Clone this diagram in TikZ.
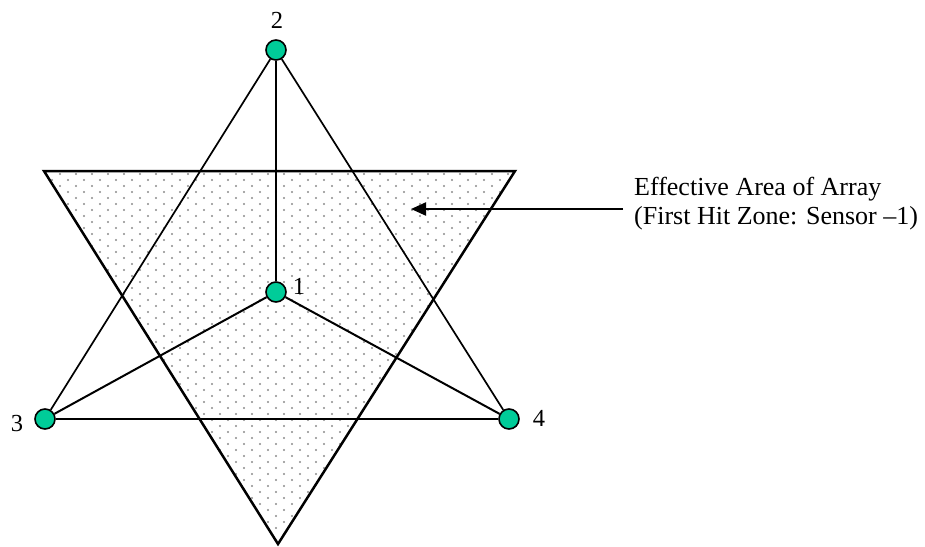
\documentclass[tikz,border=0pt]{standalone}
\usepackage{fontspec}
\setmainfont{Liberation Serif}
\usetikzlibrary{arrows.meta}
\definecolor{sensorgreen}{RGB}{0,204,153}
\definecolor{dotgray}{RGB}{140,140,140}
\tikzset{
  sensor/.style={circle, draw=black, line width=1.6pt, fill=sensorgreen, minimum size=20pt, inner sep=0pt},
  lbl/.style={font=\fontsize{24.5}{28}\selectfont, inner sep=0pt},
  note/.style={font=\fontsize{26}{29}\selectfont, inner sep=0pt, align=left},
  link/.style={line width=2pt, black},
  starline/.style={line width=1.7pt, black},
  zone/.style={line width=2.5pt, black, line join=miter},
  pointer/.style={line width=2.2pt, -{Triangle[length=15pt,width=13pt]}}
}
\begin{document}
\begin{tikzpicture}[x=1pt,y=-1pt]
\useasboundingbox[fill=white] (0,0) rectangle (925,546);
% effective area (dotted triangle)
\coordinate (tl) at (44,171);
\coordinate (tr) at (515,171);
\coordinate (tb) at (278,544);
\begin{scope}
  \clip (tl) -- (tr) -- (tb) -- cycle;
  \foreach \r in {0,...,62}{
    \pgfmathsetmacro{\off}{mod(\r,2)*8}
    \foreach \c in {0,...,30}{
      \fill[dotgray] ({44+\c*16+\off},{174+\r*6}) circle (1.05);
    }
  }
\end{scope}
\draw[zone] (tl) -- (tr) -- (tb) -- cycle;
% sensors
\node[sensor] (n2) at (276,50) {};
\node[sensor] (n1) at (276,292) {};
\node[sensor] (n3) at (45,419) {};
\node[sensor] (n4) at (509,419) {};
% connectors
\draw[starline] (n2) -- (n3);
\draw[starline] (n2) -- (n4);
\draw[link] (n2) -- (n1);
\draw[link] (n1) -- (n3);
\draw[link] (n1) -- (n4);
\draw[link] (n3) -- (n4);
% labels
\node[lbl] (l2) at (277,20) {2};
\node[lbl] (l1) at (299,286) {1};
\node[lbl] (l3) at (17,424) {3};
\node[lbl] (l4) at (539,418) {4};
% annotation
\node[note, anchor=north west] (txt) at (634,177) {Effective Area of Array\\(First Hit Zone: Sensor –1)};
\coordinate (ptr) at (623,209);
\coordinate (tip) at (411,209);
\draw[pointer] (ptr) -- (tip);
\end{tikzpicture}
\end{document}
